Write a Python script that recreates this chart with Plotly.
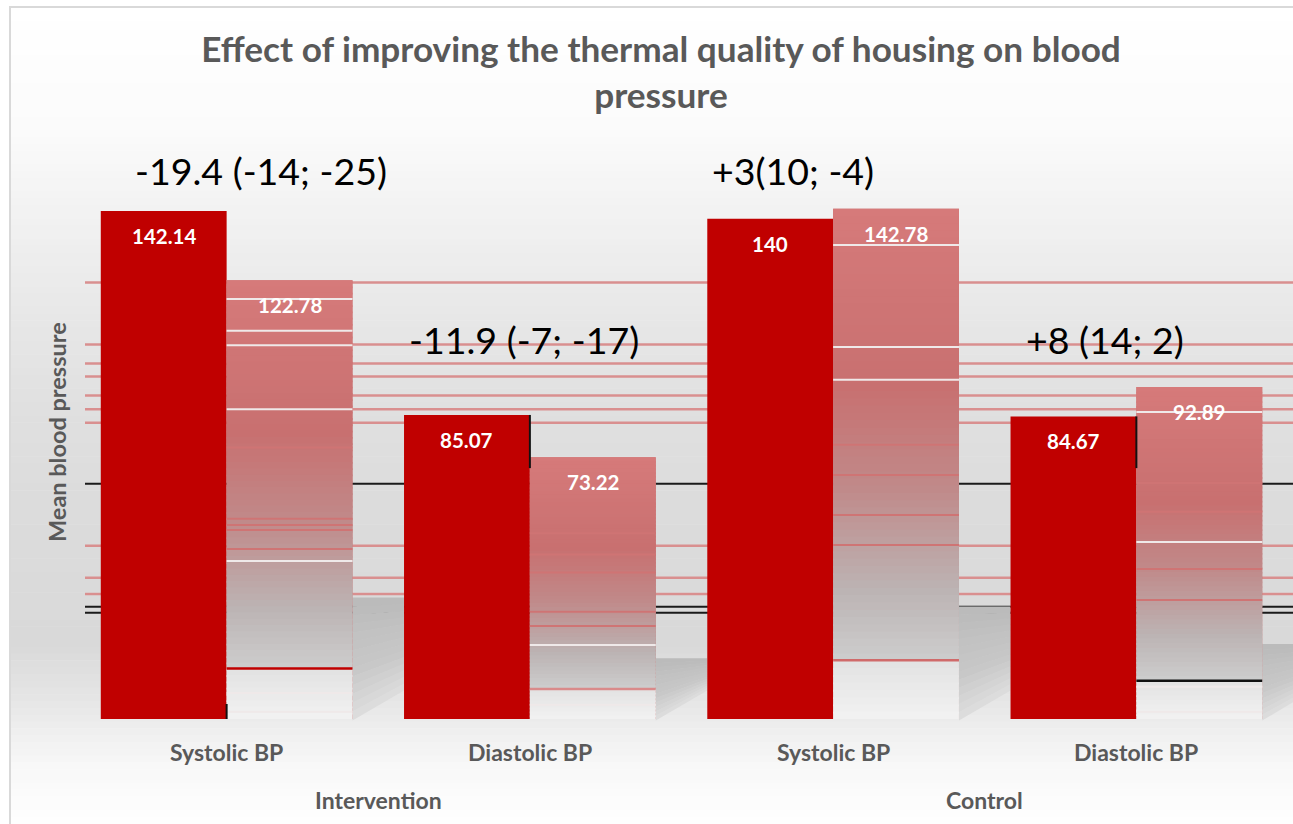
import plotly.graph_objects as go

# values
groups = ["Intervention", "Intervention", "Control", "Control"]
measures = ["Systolic BP", "Diastolic BP", "Systolic BP", "Diastolic BP"]
before = [142.14, 85.07, 140, 84.67]
after = [122.78, 73.22, 142.78, 92.89]
before_labels = ["142.14", "85.07", "140", "84.67"]
after_labels = ["122.78", "73.22", "142.78", "92.89"]
effects = ["-19.4 (-14; -25)", "-11.9 (-7; -17)", "+3(10; -4)", "+8 (14; 2)"]

# stray rules across the plot, in axis units
pink_rules = [122.1, 104.8, 99.5, 95.8, 90.5, 86.7, 82.9, 48.5, 39.5, 35.0]
black_rules = [65.8, 31.4, 29.7]
wall_tops = [34.0, 17.0, 31.5, 21.0]

# streaks inside the lighter bars, in axis units
white_streaks = [
    [117.5, 108.6, 104.6, 86.7, 44.2, 7.3, 2.0],
    [20.7, 4.0],
    [132.6, 104.1, 94.9],
    [85.9, 49.5, 9.0, 2.0],
]
pink_streaks = [
    [76.0, 56.0, 54.3, 52.9, 47.6],
    [60.0, 52.0, 46.0, 41.0, 30.0, 26.0],
    [76.7, 68.3, 57.1, 48.7],
    [75.0, 66.0, 58.0, 42.0, 33.3],
]
break_colors = ["#c00000", "#d98a8a", "#d06a6a", "#111111"]

RED = "#C00000"
GREY = "#595959"
FONT = "Lato"
W, H = 1293, 824
LEFT, BOTTOM, TOP_MARGIN = 75, 105, 150
PLOT_W, PLOT_H = 1213, 569
UNIT = 3.574  # pixels per axis unit
GAP = 0.17


def px_x(x):
    return (x - LEFT) / PLOT_W


def px_y(y):
    return (H - BOTTOM - y) / PLOT_H


def lerp_color(stops, t):
    for (t0, c0), (t1, c1) in zip(stops, stops[1:]):
        if t <= t1:
            f = (t - t0) / (t1 - t0)
            return "rgb(" + ",".join(
                str(round(a + (b - a) * f)) for a, b in zip(c0, c1)) + ")"
    return "rgb(%d,%d,%d)" % stops[-1][1]


page_stops = [
    (0, (255, 255, 255)), (0.15, (251, 251, 251)), (0.25, (242, 242, 242)),
    (0.37, (232, 232, 232)), (0.49, (224, 224, 224)), (0.6, (220, 220, 220)),
    (0.78, (217, 217, 217)), (0.86, (232, 232, 232)), (0.89, (240, 240, 240)),
    (0.93, (248, 248, 248)), (1, (254, 254, 254)),
]
bar_stops = [
    (0, (214, 122, 122)), (0.35, (200, 112, 112)), (0.55, (192, 138, 138)),
    (0.75, (188, 180, 180)), (0.884, (205, 205, 205)), (0.885, (226, 226, 226)),
    (1, (242, 242, 242)),
]
wall_stops = [(0, (186, 186, 186)), (0.6, (200, 200, 200)), (1, (222, 222, 222))]

shapes = []

# page background with the card edge
STRIPS = 120
for k in range(STRIPS):
    shapes.append(dict(
        type="rect", xref="paper", yref="paper", layer="below",
        x0=px_x(11), x1=px_x(W),
        y0=px_y(8 + (H - 8) * (k + 1) / STRIPS),
        y1=px_y(8 + (H - 8) * k / STRIPS - 0.5),
        fillcolor=lerp_color(page_stops, (k + 0.5) / STRIPS), line_width=0,
    ))
shapes.append(dict(
    type="path", xref="paper", yref="paper", layer="below",
    path=f"M {px_x(10)},{px_y(H)} L {px_x(10)},{px_y(7)} L {px_x(W)},{px_y(7)}",
    line=dict(color="#d9d9d9", width=2),
))


def bar_x(i, second):
    half = (1 - GAP) / 8
    centre = (i + 0.5) / 4
    return (centre, centre + half) if second else (centre - half, centre)


def rule(y, color, width):
    return dict(type="line", xref="paper", yref="y", layer="below",
                x0=px_x(85), x1=px_x(W), y0=y, y1=y,
                line=dict(color=color, width=width))


for v in pink_rules:
    shapes.append(rule(v, "#d98f8f", 2.5))
for v in black_rules:
    shapes.append(rule(v, "#1a1a1a", 2))

# side walls left by the 3D effect
WALL_STRIPS = 14
for i, top in enumerate(wall_tops):
    x0 = bar_x(i, True)[1]
    x1 = min(x0 + GAP / 4, px_x(W))
    y_top = top * UNIT / PLOT_H
    y_left = -1 / PLOT_H
    y_right = 29 / PLOT_H * (x1 - x0) / (GAP / 4)
    for k in range(WALL_STRIPS):
        s0, s1 = k / WALL_STRIPS, (k + 1) / WALL_STRIPS
        l0, l1 = y_top + (y_left - y_top) * s0, y_top + (y_left - y_top) * s1
        r0, r1 = y_top + (y_right - y_top) * s0, y_top + (y_right - y_top) * s1
        shapes.append(dict(
            type="path", xref="paper", yref="paper", layer="below",
            path=f"M {x0},{l0} L {x1},{r0} L {x1},{r1 - 0.001} L {x0},{l1 - 0.001} Z",
            fillcolor=lerp_color(wall_stops, (k + 0.5) / WALL_STRIPS), line_width=0,
        ))

# pale floor line under the bars
shapes.append(dict(type="line", xref="paper", yref="y", layer="below",
                   x0=px_x(101), x1=px_x(1262), y0=-0.6, y1=-0.6,
                   line=dict(color="#d6d6d6", width=2)))

# gradient and streaks on the lighter bars
BANDS = 70
for i, v in enumerate(after):
    x0, x1 = bar_x(i, True)
    for k in range(BANDS):
        shapes.append(dict(
            type="rect", xref="paper", yref="y", layer="above",
            x0=x0, x1=x1, y0=max(v * (1 - (k + 1) / BANDS) - 0.5, 0),
            y1=v * (1 - k / BANDS),
            fillcolor=lerp_color(bar_stops, (k + 0.5) / BANDS), line_width=0,
        ))
    for s in pink_streaks[i]:
        shapes.append(dict(type="line", xref="paper", yref="y", layer="above",
                           x0=x0, x1=x1, y0=s, y1=s,
                           line=dict(color="#cf7474", width=2)))
    for s in white_streaks[i]:
        shapes.append(dict(type="line", xref="paper", yref="y", layer="above",
                           x0=x0, x1=x1, y0=s, y1=s,
                           line=dict(color="#efe9e9", width=2)))
    brk = v * (1 - 0.885)
    shapes.append(dict(type="line", xref="paper", yref="y", layer="above",
                       x0=x0, x1=x1, y0=brk, y1=brk,
                       line=dict(color=break_colors[i], width=2.5)))

# black slivers on the right edge of the darker bars
for i, lo, hi in ((0, 0, 4.2), (1, 70.2, before[1]), (3, 70.2, before[3])):
    x = bar_x(i, False)[1]
    shapes.append(dict(type="line", xref="paper", yref="y", layer="above",
                       x0=x, x1=x, y0=lo, y1=hi,
                       line=dict(color="#111111", width=2)))

annotations = []
effect_x = [261, 524, 793, 1105]
effect_y = [171, 339, 171, 339]
for i in range(4):
    for second, vals, labels in ((False, before, before_labels), (True, after, after_labels)):
        x0, x1 = bar_x(i, second)
        annotations.append(dict(
            x=(x0 + x1) / 2, y=vals[i] - 7, xref="paper", yref="y",
            text=labels[i], showarrow=False, xanchor="center", yanchor="middle",
            font=dict(family=FONT, size=20.5, color="white", weight=700),
        ))
    annotations.append(dict(
        x=px_x(effect_x[i]), y=px_y(effect_y[i]), xref="paper", yref="paper",
        text=effects[i], showarrow=False, xanchor="center", yanchor="middle",
        font=dict(family=FONT, size=37.5, color="black"),
    ))
    annotations.append(dict(
        x=(i + 0.5) / 4, y=px_y(752), xref="paper", yref="paper",
        text=measures[i], showarrow=False, xanchor="center", yanchor="middle",
        font=dict(family=FONT, size=23, color=GREY, weight=700),
    ))
for name, x in ((groups[0], 0.25), (groups[2], 0.75)):
    annotations.append(dict(
        x=x, y=px_y(800), xref="paper", yref="paper",
        text=name, showarrow=False, xanchor="center", yanchor="middle",
        font=dict(family=FONT, size=23, color=GREY, weight=700),
    ))
annotations.append(dict(
    x=px_x(57), y=px_y(432), xref="paper", yref="paper",
    text="Mean blood pressure", showarrow=False, textangle=-90,
    xanchor="center", yanchor="middle",
    font=dict(family=FONT, size=23.5, color=GREY, weight=700),
))

fig = go.Figure()
fig.add_trace(go.Bar(x=[groups, measures], y=before, name="Before",
                     marker=dict(color=RED, line_width=0)))
fig.add_trace(go.Bar(x=[groups, measures], y=after, name="After",
                     marker=dict(color="#c87070", line_width=0)))
fig.update_layout(
    width=W, height=H,
    margin=dict(l=LEFT, r=4.5, t=TOP_MARGIN, b=BOTTOM, autoexpand=False),
    barmode="group", bargap=GAP, bargroupgap=0,
    showlegend=False,
    paper_bgcolor="white", plot_bgcolor="rgba(0,0,0,0)",
    title=dict(
        text="Effect of improving the thermal quality of housing on blood<br>pressure",
        x=661 / W, xanchor="center", y=1 - 62 / H, yanchor="middle",
        font=dict(family=FONT, size=35.2, color=GREY, weight=700),
    ),
    xaxis=dict(type="multicategory", showgrid=False, showline=False, ticks="",
               showdividers=False, showticklabels=False),
    yaxis=dict(range=[0, PLOT_H / UNIT], visible=False),
    shapes=shapes,
    annotations=annotations,
)

fig.write_html(
    "out.html",
    config={"displayModeBar": False},
    post_script="document.body.style.margin='0';document.body.style.overflow='hidden';",
)
